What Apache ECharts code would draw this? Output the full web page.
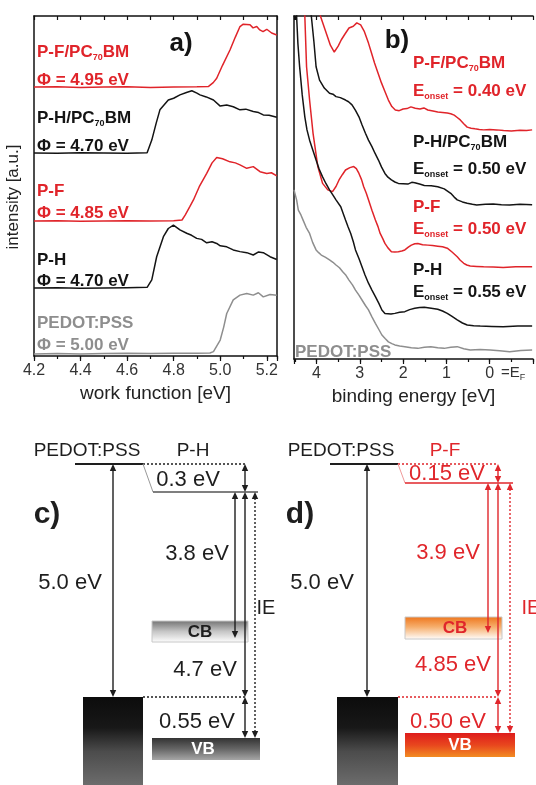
<!DOCTYPE html>
<html><head><meta charset="utf-8">
<script src="https://cdn.jsdelivr.net/npm/echarts@6/dist/echarts.min.js"></script>
<style>html,body{margin:0;padding:0;background:#fff}#c{width:536px;height:785px}</style>
</head><body><div id="c"></div>
<script>
// ---------- Panel a: work function spectra [eV, intensity a.u.] ----------
const wfPFPCBM = [[4.20,79.1],[4.30,79.2],[4.40,79.0],[4.50,79.1],[4.60,79.2],[4.70,79.0],[4.80,79.1],[4.90,79.2],[4.95,79.3],[4.97,80.4],[4.985,81.7],[5.01,85.5],[5.042,90.0],[5.065,93.8],[5.085,96.9],[5.099,97.6],[5.128,97.4],[5.141,96.5],[5.157,96.9],[5.17,95.9],[5.184,95.4],[5.2,96.1],[5.221,95.0],[5.243,94.4]];
const wfPHPCBM = [[4.20,59.7],[4.30,59.6],[4.40,59.8],[4.50,59.7],[4.60,59.6],[4.686,59.8],[4.706,63.5],[4.725,68.5],[4.741,72.4],[4.777,75.3],[4.80,75.8],[4.827,76.8],[4.855,77.5],[4.878,78.0],[4.90,77.3],[4.913,76.8],[4.94,76.2],[4.971,75.3],[5.0,73.5],[5.028,73.8],[5.056,73.3],[5.085,72.4],[5.11,72.6],[5.142,71.9],[5.165,71.6],[5.185,70.9],[5.21,70.8],[5.243,70.2]];
const wfPF = [[4.20,39.7],[4.30,39.8],[4.40,39.6],[4.50,39.7],[4.60,39.8],[4.70,39.7],[4.80,39.8],[4.836,40.0],[4.85,41.5],[4.87,44.0],[4.885,45.9],[4.91,49.8],[4.942,53.7],[4.965,56.8],[4.985,58.4],[5.01,58.0],[5.042,57.1],[5.065,56.8],[5.085,56.2],[5.114,55.2],[5.142,55.7],[5.171,54.2],[5.2,53.7],[5.22,53.9],[5.243,53.0]];
const wfPH = [[4.20,20.0],[4.30,20.1],[4.40,19.9],[4.50,20.0],[4.60,20.1],[4.686,20.2],[4.706,22.4],[4.727,29.2],[4.756,35.1],[4.777,37.5],[4.799,38.5],[4.827,37.1],[4.856,36.1],[4.877,35.5],[4.899,34.6],[4.92,34.3],[4.942,33.3],[4.965,33.6],[4.985,33.1],[5.0,32.4],[5.028,32.1],[5.056,31.2],[5.085,30.7],[5.114,30.4],[5.142,29.7],[5.165,30.6],[5.185,30.4],[5.214,29.2],[5.243,28.4]];
const wfPEDOT = [[4.20,0.6],[4.30,0.7],[4.40,0.6],[4.50,0.7],[4.60,0.8],[4.70,0.7],[4.80,0.8],[4.90,0.8],[4.956,0.9],[4.971,1.3],[5.0,4.7],[5.015,8.5],[5.028,12.5],[5.056,16.5],[5.085,17.9],[5.114,18.4],[5.142,17.9],[5.164,18.6],[5.185,17.4],[5.214,18.1],[5.243,17.9]];

// ---------- Panel b: UPS valence region [binding energy eV, intensity a.u.] ----------
const bePFPCBM = [[3.98,104.7],[3.91,100.0],[3.80,95.9],[3.68,91.5],[3.59,89.5],[3.50,91.2],[3.43,93.0],[3.35,94.6],[3.25,96.5],[3.15,97.0],[3.07,98.0],[2.98,97.4],[2.90,95.6],[2.80,92.1],[2.73,89.2],[2.66,86.3],[2.58,83.4],[2.50,80.5],[2.42,78.0],[2.34,75.5],[2.26,73.6],[2.18,72.6],[2.09,72.4],[2.0,72.9],[1.91,73.0],[1.82,73.5],[1.72,73.1],[1.61,72.9],[1.52,73.2],[1.43,72.6],[1.31,72.3],[1.20,72.0],[1.09,71.9],[0.98,71.7],[0.90,71.5],[0.82,71.1],[0.75,70.4],[0.68,69.7],[0.60,68.6],[0.52,67.6],[0.43,67.3],[0.34,67.1],[0.24,66.9],[0.14,66.8],[0.0,66.9],[-0.16,66.8],[-0.32,66.6],[-0.5,66.5],[-0.7,66.7],[-0.85,66.6],[-0.98,66.8]];
const bePHPCBM = [[4.20,110],[4.12,100.0],[4.06,92.5],[4.01,85.2],[3.93,81.3],[3.82,79.0],[3.70,77.5],[3.62,77.2],[3.55,76.5],[3.45,76.2],[3.33,75.5],[3.26,75.0],[3.18,74.1],[3.10,72.5],[3.02,70.6],[2.95,68.3],[2.87,65.8],[2.80,63.8],[2.72,61.9],[2.65,60.0],[2.57,58.0],[2.50,56.0],[2.42,54.1],[2.35,53.0],[2.27,52.2],[2.19,51.6],[2.11,51.2],[2.0,51.1],[1.89,51.0],[1.80,51.5],[1.73,51.4],[1.62,51.0],[1.51,50.6],[1.35,50.5],[1.20,50.2],[1.05,49.6],[0.90,48.3],[0.82,47.2],[0.75,46.4],[0.63,45.8],[0.52,45.4],[0.40,45.1],[0.30,44.9],[0.10,45.1],[-0.08,45.2],[-0.27,45.0],[-0.46,44.9],[-0.7,45.1],[-0.98,45.0]];
const bePF = [[4.32,110],[4.27,100.0],[4.23,85.2],[4.16,75.5],[4.08,65.8],[3.97,56.1],[3.86,51.2],[3.74,49.3],[3.63,48.8],[3.55,50.3],[3.48,52.2],[3.40,53.8],[3.33,55.1],[3.23,55.8],[3.14,56.1],[3.08,55.5],[3.02,54.1],[2.96,52.3],[2.91,50.2],[2.85,48.3],[2.80,46.4],[2.72,43.4],[2.64,40.5],[2.58,38.6],[2.53,36.6],[2.47,35.1],[2.42,33.7],[2.35,32.4],[2.27,31.3],[2.19,31.2],[2.11,31.3],[2.03,31.5],[1.96,31.8],[1.88,32.6],[1.81,33.2],[1.73,33.6],[1.66,33.7],[1.55,33.3],[1.43,33.2],[1.32,33.1],[1.20,32.9],[1.09,32.7],[0.98,32.3],[0.87,31.2],[0.75,29.8],[0.68,28.8],[0.60,27.9],[0.53,27.4],[0.45,27.1],[0.30,27.0],[0.14,26.9],[-0.08,26.8],[-0.31,26.7],[-0.6,26.9],[-0.98,26.9]];
const bePH = [[4.52,115],[4.46,100.0],[4.43,92],[4.39,85.2],[4.33,77],[4.27,70.6],[4.22,66.8],[4.16,63.8],[4.08,60.7],[4.01,58.0],[3.94,55.4],[3.86,53.1],[3.78,51.1],[3.70,49.3],[3.62,47.8],[3.55,46.4],[3.44,44.4],[3.33,40.5],[3.27,38.5],[3.21,36.6],[3.15,34.2],[3.10,31.8],[3.02,29.3],[2.95,26.9],[2.88,24.5],[2.80,22.1],[2.72,20.1],[2.64,18.2],[2.56,16.2],[2.49,14.3],[2.42,13.3],[2.38,12.8],[2.28,13.1],[2.19,13.3],[2.08,13.6],[1.96,13.8],[1.85,14.4],[1.73,14.8],[1.62,15.0],[1.51,15.1],[1.35,14.8],[1.20,14.5],[1.09,14.0],[0.98,13.3],[0.87,12.4],[0.75,11.4],[0.63,10.5],[0.52,9.9],[0.37,9.7],[0.22,9.6],[-0.05,9.5],[-0.31,9.4],[-0.65,9.6],[-0.98,9.6]];
const bePEDOT = [[4.52,49.3],[4.46,46.4],[4.42,43.4],[4.36,42.0],[4.31,40.5],[4.24,38.4],[4.16,36.6],[4.09,34.0],[4.01,31.8],[3.95,31.0],[3.89,30.3],[3.80,29.7],[3.70,28.9],[3.62,28.2],[3.55,27.4],[3.47,26.6],[3.40,25.5],[3.32,24.4],[3.25,23.0],[3.17,21.6],[3.10,20.1],[3.02,18.6],[2.95,17.2],[2.87,15.6],[2.80,14.3],[2.72,12.3],[2.64,10.4],[2.56,8.6],[2.49,7.0],[2.41,5.9],[2.34,5.0],[2.26,4.5],[2.19,4.1],[2.08,3.8],[1.96,3.6],[1.81,3.3],[1.66,3.1],[1.51,3.4],[1.36,3.6],[1.20,3.3],[1.05,3.1],[0.90,3.4],[0.75,3.6],[0.60,3.0],[0.45,2.6],[0.22,2.8],[-0.01,2.6],[-0.23,2.4],[-0.46,2.1],[-0.72,2.5],[-0.98,2.6]];

// ---------- Labels ----------
const aNames = ['P-F/PC70BM','P-H/PC70BM','P-F','P-H','PEDOT:PSS'];
const aPhi = ['4.95','4.70','4.85','4.70','5.00'];
const bNames = ['P-F/PC70BM','P-H/PC70BM','P-F','P-H'];
const bOnset = ['0.40','0.50','0.50','0.55'];

// ---------- Panels c/d: schematic energy diagrams (schematic units, y downward) ----------
const cElems = [
  {t:'seg', p:[75,34,143,34], c:'k', w:2},
  {t:'seg', p:[143,34,245,34], c:'k', w:1.5, d:1},
  {t:'seg', p:[143,34,153,62], c:'g', w:1},
  {t:'seg', p:[153,62,258,62], c:'k2', w:1.3},
  {t:'seg', p:[143,267,245,267], c:'k', w:1.5, d:1},
  {t:'box', p:[152,191,248,212], g:'cbC'},
  {t:'box', p:[83,267,143,355], g:'pedot'},
  {t:'box', p:[152,308,260,330], g:'vbC'},
  {t:'arr', p:[245,34,245,62], c:'k'},
  {t:'arr', p:[113,34,113,267], c:'k'},
  {t:'arr', p:[235,62,235,208], c:'k'},
  {t:'arr', p:[245,62,245,267], c:'k'},
  {t:'arr', p:[245,267,245,308], c:'k'},
  {t:'arr', p:[255,62,255,308], c:'k', d:1},
  {t:'txt', p:[87,21], s:'PEDOT:PSS', c:'k', f:19},
  {t:'txt', p:[193,21], s:'P-H', c:'k', f:19},
  {t:'txt', p:[188,50], s:'0.3 eV', c:'k', f:22},
  {t:'txt', p:[47,85], s:'c)', c:'k', f:30, b:1},
  {t:'txt', p:[70,153], s:'5.0 eV', c:'k', f:22},
  {t:'txt', p:[197,124], s:'3.8 eV', c:'k', f:22},
  {t:'txt', p:[266,178], s:'IE', c:'k', f:20},
  {t:'txt', p:[200,202], s:'CB', c:'k', f:17, b:1},
  {t:'txt', p:[205,240], s:'4.7 eV', c:'k', f:22},
  {t:'txt', p:[197,292], s:'0.55 eV', c:'k', f:22},
  {t:'txt', p:[203,319], s:'VB', c:'w', f:17, b:1}
];
const dElems = [
  {t:'seg', p:[65,34,133,34], c:'k', w:2},
  {t:'seg', p:[133,34,232,34], c:'r', w:1.5, d:1},
  {t:'seg', p:[133,34,140,53], c:'lr', w:1},
  {t:'seg', p:[140,53,248,53], c:'r', w:1.5},
  {t:'seg', p:[133,267,233,267], c:'r', w:1.5, d:1},
  {t:'box', p:[140,187,237,209], g:'cbD'},
  {t:'box', p:[72,267,133,355], g:'pedot'},
  {t:'box', p:[140,303,250,327], g:'vbD'},
  {t:'arr', p:[233,34,233,53], c:'r'},
  {t:'arr', p:[102,34,102,267], c:'k'},
  {t:'arr', p:[223,53,223,203], c:'r'},
  {t:'arr', p:[233,53,233,267], c:'r'},
  {t:'arr', p:[233,267,233,303], c:'r'},
  {t:'arr', p:[245,53,245,303], c:'r', d:1},
  {t:'txt', p:[76,21], s:'PEDOT:PSS', c:'k', f:19},
  {t:'txt', p:[180,21], s:'P-F', c:'r', f:19},
  {t:'txt', p:[182,44], s:'0.15 eV', c:'r', f:22},
  {t:'txt', p:[35,85], s:'d)', c:'k', f:30, b:1},
  {t:'txt', p:[57,153], s:'5.0 eV', c:'k', f:22},
  {t:'txt', p:[183,123], s:'3.9 eV', c:'r', f:22},
  {t:'txt', p:[266,178], s:'IE', c:'r', f:20},
  {t:'txt', p:[190,198], s:'CB', c:'r', f:17, b:1},
  {t:'txt', p:[188,235], s:'4.85 eV', c:'r', f:22},
  {t:'txt', p:[183,292], s:'0.50 eV', c:'r', f:22},
  {t:'txt', p:[195,315], s:'VB', c:'w', f:17, b:1}
];

// ---------- styling ----------
const FONT = '"Liberation Sans", Arial, sans-serif';
const RED = '#e0242a', BLK = '#141414', GRY = '#8e8e8e';
const COL = {k:'#1e1e1e', k2:'#555', g:'#999', r:'#e0262b', lr:'#f09a9a', w:'#ffffff'};
const G = echarts.graphic.LinearGradient;
const GRAD = {
  pedot: [[0,'#0c0c0c'],[0.35,'#181818'],[0.62,'#4c4c4c'],[1,'#6c6c6c']],
  cbC: [[0,'#727272'],[0.5,'#c6c6c6'],[1,'#ffffff']],
  vbC: [[0,'#333333'],[0.5,'#666666'],[1,'#a6a6a6']],
  cbD: [[0,'#ee741a'],[0.45,'#f6ae6c'],[1,'#ffffff']],
  vbD: [[0,'#de1c1c'],[0.5,'#e8461e'],[1,'#f28c22']]
};

function mkRender(elems){
  return function(params, api){
    const e = elems[params.dataIndex];
    const P = (x,y)=>api.coord([x,y]);
    const col = COL[e.c];
    if(e.t==='seg'){
      const a=P(e.p[0],e.p[1]), b=P(e.p[2],e.p[3]);
      return {type:'line', shape:{x1:a[0],y1:a[1],x2:b[0],y2:b[1]}, style:{stroke:col, lineWidth:e.w||1.3, lineDash:e.d?[2,2]:null}};
    }
    if(e.t==='arr'){
      const a=P(e.p[0],e.p[1]), b=P(e.p[2],e.p[3]); const hl=7, hw=3.2;
      return {type:'group', children:[
        {type:'line', shape:{x1:a[0],y1:a[1]+hl-1,x2:b[0],y2:b[1]-hl+1}, style:{stroke:col, lineWidth:1.4, lineDash:e.d?[2,2]:null}},
        {type:'polygon', shape:{points:[[a[0],a[1]],[a[0]-hw,a[1]+hl],[a[0]+hw,a[1]+hl]]}, style:{fill:col}},
        {type:'polygon', shape:{points:[[b[0],b[1]],[b[0]-hw,b[1]-hl],[b[0]+hw,b[1]-hl]]}, style:{fill:col}}
      ]};
    }
    if(e.t==='box'){
      const a=P(e.p[0],e.p[1]), b=P(e.p[2],e.p[3]);
      const stops = GRAD[e.g].map(s=>({offset:s[0], color:s[1]}));
      return {type:'rect', shape:{x:a[0],y:a[1],width:b[0]-a[0],height:b[1]-a[1]},
        style:{fill:new G(0,0,0,1,stops), stroke:(e.g==='cbC'||e.g==='cbD')?'#c8c8c8':null, lineWidth:1}};
    }
    const a=P(e.p[0],e.p[1]);
    return {type:'text', x:a[0], y:a[1], style:{text:e.s, fill:col, fontSize:e.f, fontFamily:FONT, fontWeight:e.b?'bold':'normal', align:'center', verticalAlign:'middle'}};
  };
}

function richLabel(x, y, str, color, size){
  return {type:'text', x:x, y:y, z:10, style:{text:str, fill:color, font:'bold '+size+'px '+FONT, verticalAlign:'middle', align:'left',
    rich:{
      n:{fill:color, fontSize:size, fontWeight:'bold', fontFamily:FONT, lineHeight:20, verticalAlign:'middle'},
      s:{fill:color, fontSize:9, fontWeight:'bold', fontFamily:FONT, lineHeight:8, verticalAlign:'bottom'},
      o:{fill:color, fontSize:9, fontWeight:'bold', fontFamily:FONT, lineHeight:6, verticalAlign:'bottom'}
    }}};
}
function nm(s){ return s.replace('PC70BM','{n|PC}{s|70}{n|BM}').replace(/^([^{]+)(?={|$)/, '{n|$1}'); }

const graphics = [];
const aCol = [RED, BLK, RED, BLK, GRY];
const aY = [[52,80],[118,146],[191,213],[260,281],[323,345]];
aNames.forEach((n,i)=>{
  graphics.push(richLabel(37, aY[i][0], nm(n), aCol[i], 17));
  graphics.push(richLabel(37, aY[i][1], '{n|\u03A6 = '+aPhi[i]+' eV}', aCol[i], 17));
});
const bCol = [RED, BLK, RED, BLK];
const bY = [[63,91],[142,169],[207,229],[270,292]];
bNames.forEach((n,i)=>{
  graphics.push(richLabel(413, bY[i][0], nm(n), bCol[i], 17));
  graphics.push(richLabel(413, bY[i][1], '{n|E}{o|onset}{n| = '+bOnset[i]+' eV}', bCol[i], 17));
});
graphics.push(richLabel(295, 352, '{n|PEDOT:PSS}', GRY, 17));
graphics.push({type:'text', x:181, y:44, style:{text:'a)', fill:BLK, font:'bold 26px '+FONT, align:'center', verticalAlign:'middle'}});
graphics.push({type:'text', x:397, y:41, style:{text:'b)', fill:BLK, font:'bold 26px '+FONT, align:'center', verticalAlign:'middle'}});
graphics.push({type:'text', x:13, y:197, rotation:Math.PI/2, style:{text:'intensity [a.u.]', fill:'#222', font:'17px '+FONT, align:'center', verticalAlign:'middle'}});
graphics.push({type:'text', x:501, y:373, style:{text:'{e|=E}{f|F}', fill:'#333', font:'15px '+FONT, verticalAlign:'middle', align:'left',
  rich:{e:{fill:'#333', fontSize:15, fontFamily:FONT, lineHeight:18, verticalAlign:'middle'}, f:{fill:'#333', fontSize:9, fontFamily:FONT, lineHeight:6, verticalAlign:'bottom'}}}});

const axLine = {show:true, onZero:false, lineStyle:{color:'#111', width:1.5}};
const isMult = (v,step)=>Math.abs(v/step - Math.round(v/step))<1e-6;

const lineSeries = (name, data, color, xi, yi)=>({name, type:'line', data, xAxisIndex:xi, yAxisIndex:yi, showSymbol:false, symbol:'none', smooth:false, clip:true, lineStyle:{color, width:1.5}, animation:false, z:3});

const option = {
  backgroundColor:'#fff',
  animation:false,
  grid:[
    {left:34, top:16, width:243, height:340},
    {left:294, top:16, width:243, height:343},
    {left:0, top:430, width:268, height:355},
    {left:265, top:430, width:271, height:355}
  ],
  xAxis:[
    {gridIndex:0, type:'value', position:'bottom', min:4.2, max:5.244, interval:0.2, axisLine:axLine,
     axisTick:{show:true, length:5, lineStyle:{color:'#111', width:1.2}}, splitLine:{show:false},
     axisLabel:{color:'#333', fontSize:16, fontFamily:FONT, margin:7, formatter:v=>isMult(v,0.2)?v.toFixed(1):''},
     name:'work function [eV]', nameLocation:'middle', nameGap:28, nameTextStyle:{color:'#222', fontSize:19, fontFamily:FONT}},
    {gridIndex:0, type:'value', position:'bottom', min:4.2, max:5.244, interval:0.1, axisLine:{show:false, onZero:false},
     axisTick:{show:true, length:3, lineStyle:{color:'#111', width:1.2}}, axisLabel:{show:false}, splitLine:{show:false}},
    {gridIndex:0, type:'value', position:'top', min:4.2, max:5.244, interval:0.1, axisLine:axLine,
     axisTick:{show:true, inside:true, length:4, lineStyle:{color:'#111', width:1.2}}, axisLabel:{show:false}, splitLine:{show:false}},
    {gridIndex:1, type:'value', position:'bottom', inverse:true, min:-1, max:4.52, interval:1, axisLine:axLine,
     axisTick:{show:true, length:5, lineStyle:{color:'#111', width:1.2}}, splitLine:{show:false},
     axisLabel:{color:'#333', fontSize:16, fontFamily:FONT, margin:7, formatter:v=>(isMult(v,1)&&v>=0)?String(Math.round(v)):''},
     name:'binding energy [eV]', nameLocation:'middle', nameGap:28, nameTextStyle:{color:'#222', fontSize:19, fontFamily:FONT}},
    {gridIndex:1, type:'value', position:'bottom', inverse:true, min:-1, max:4.52, interval:0.5, axisLine:{show:false, onZero:false},
     axisTick:{show:true, length:3, lineStyle:{color:'#111', width:1.2}}, axisLabel:{show:false}, splitLine:{show:false}},
    {gridIndex:1, type:'value', position:'top', inverse:true, min:-1, max:4.52, interval:0.5, axisLine:axLine,
     axisTick:{show:true, inside:true, length:4, lineStyle:{color:'#111', width:1.2}}, axisLabel:{show:false}, splitLine:{show:false}},
    {gridIndex:2, type:'value', min:0, max:268, show:false},
    {gridIndex:3, type:'value', min:0, max:271, show:false}
  ],
  yAxis:[
    {gridIndex:0, type:'value', min:0, max:100, position:'left', axisLine:axLine, axisTick:{show:false}, axisLabel:{show:false}, splitLine:{show:false}},
    {gridIndex:0, type:'value', min:0, max:100, position:'right', axisLine:axLine, axisTick:{show:false}, axisLabel:{show:false}, splitLine:{show:false}},
    {gridIndex:1, type:'value', min:0, max:100, position:'left', axisLine:axLine, axisTick:{show:false}, axisLabel:{show:false}, splitLine:{show:false}},
    {gridIndex:2, type:'value', min:0, max:355, inverse:true, show:false},
    {gridIndex:3, type:'value', min:0, max:355, inverse:true, show:false}
  ],
  series:[
    lineSeries('P-F/PC70BM', wfPFPCBM, RED, 0, 0),
    lineSeries('P-H/PC70BM', wfPHPCBM, BLK, 0, 0),
    lineSeries('P-F', wfPF, RED, 0, 0),
    lineSeries('P-H', wfPH, BLK, 0, 0),
    lineSeries('PEDOT:PSS', wfPEDOT, GRY, 0, 0),
    lineSeries('P-F/PC70BM b', bePFPCBM, RED, 3, 2),
    lineSeries('P-H/PC70BM b', bePHPCBM, BLK, 3, 2),
    lineSeries('P-F b', bePF, RED, 3, 2),
    lineSeries('P-H b', bePH, BLK, 3, 2),
    lineSeries('PEDOT:PSS b', bePEDOT, GRY, 3, 2),
    {type:'custom', xAxisIndex:6, yAxisIndex:3, silent:true, animation:false, clip:false, renderItem:mkRender(cElems), data:cElems.map((e,i)=>[e.p[0],e.p[1],i])},
    {type:'custom', xAxisIndex:7, yAxisIndex:4, silent:true, animation:false, clip:false, renderItem:mkRender(dElems), data:dElems.map((e,i)=>[e.p[0],e.p[1],i])}
  ],
  graphic: graphics
};
const chart = echarts.init(document.getElementById('c'), null, {renderer:'canvas'});
chart.setOption(option);
</script></body></html>
